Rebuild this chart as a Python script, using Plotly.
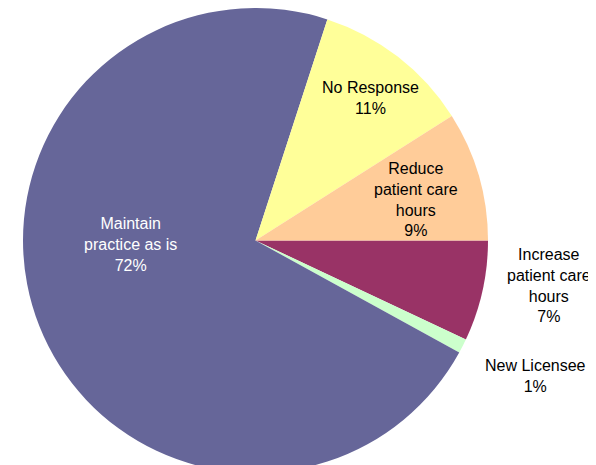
import plotly.graph_objects as go

# Data (clockwise from 3 o'clock)
categories = ["Increase patient care hours", "New Licensee", "Maintain practice as is",
              "No Response", "Reduce patient care hours"]
display_labels = ["Increase<br>patient care<br>hours", "New Licensee", "Maintain<br>practice as is",
                  "No Response", "Reduce<br>patient care<br>hours"]
values = [7, 1, 72, 11, 9]
colors = ["#993366", "#CCFFCC", "#666699", "#FFFF99", "#FFCC99"]
label_colors = ["#000000", "#000000", "#FFFFFF", "#000000", "#000000"]
# label centres in figure pixels (x, y)
label_pos = [(541, 277.5), (527.5, 368), (122, 236), (362, 90.5), (407.5, 191)]

W, H = 596, 465
cx, cy, r = 247.5, 232.5, 232.5

fig = go.Figure(go.Pie(
    labels=categories,
    values=values,
    sort=False,
    direction="clockwise",
    rotation=90,
    marker=dict(colors=colors, line=dict(width=0)),
    textinfo="none",
    hoverinfo="label+percent",
    domain=dict(x=[(cx - r) / W, (cx + r) / W], y=[0, 1]),
    showlegend=False,
))

total = sum(values)
annotations = []
for lab, v, (x, y), c in zip(display_labels, values, label_pos, label_colors):
    annotations.append(dict(
        x=x / W, y=1 - y / H, xref="paper", yref="paper",
        text=f"{lab}<br>{round(100 * v / total)}%",
        showarrow=False, align="center",
        font=dict(family="Liberation Sans, Arial, sans-serif", size=16, color=c),
        xanchor="center", yanchor="middle",
    ))

fig.update_layout(
    width=W, height=H,
    margin=dict(l=0, r=0, t=0, b=0),
    paper_bgcolor="white", plot_bgcolor="white",
    annotations=annotations,
)

fig.write_html("out.html")
